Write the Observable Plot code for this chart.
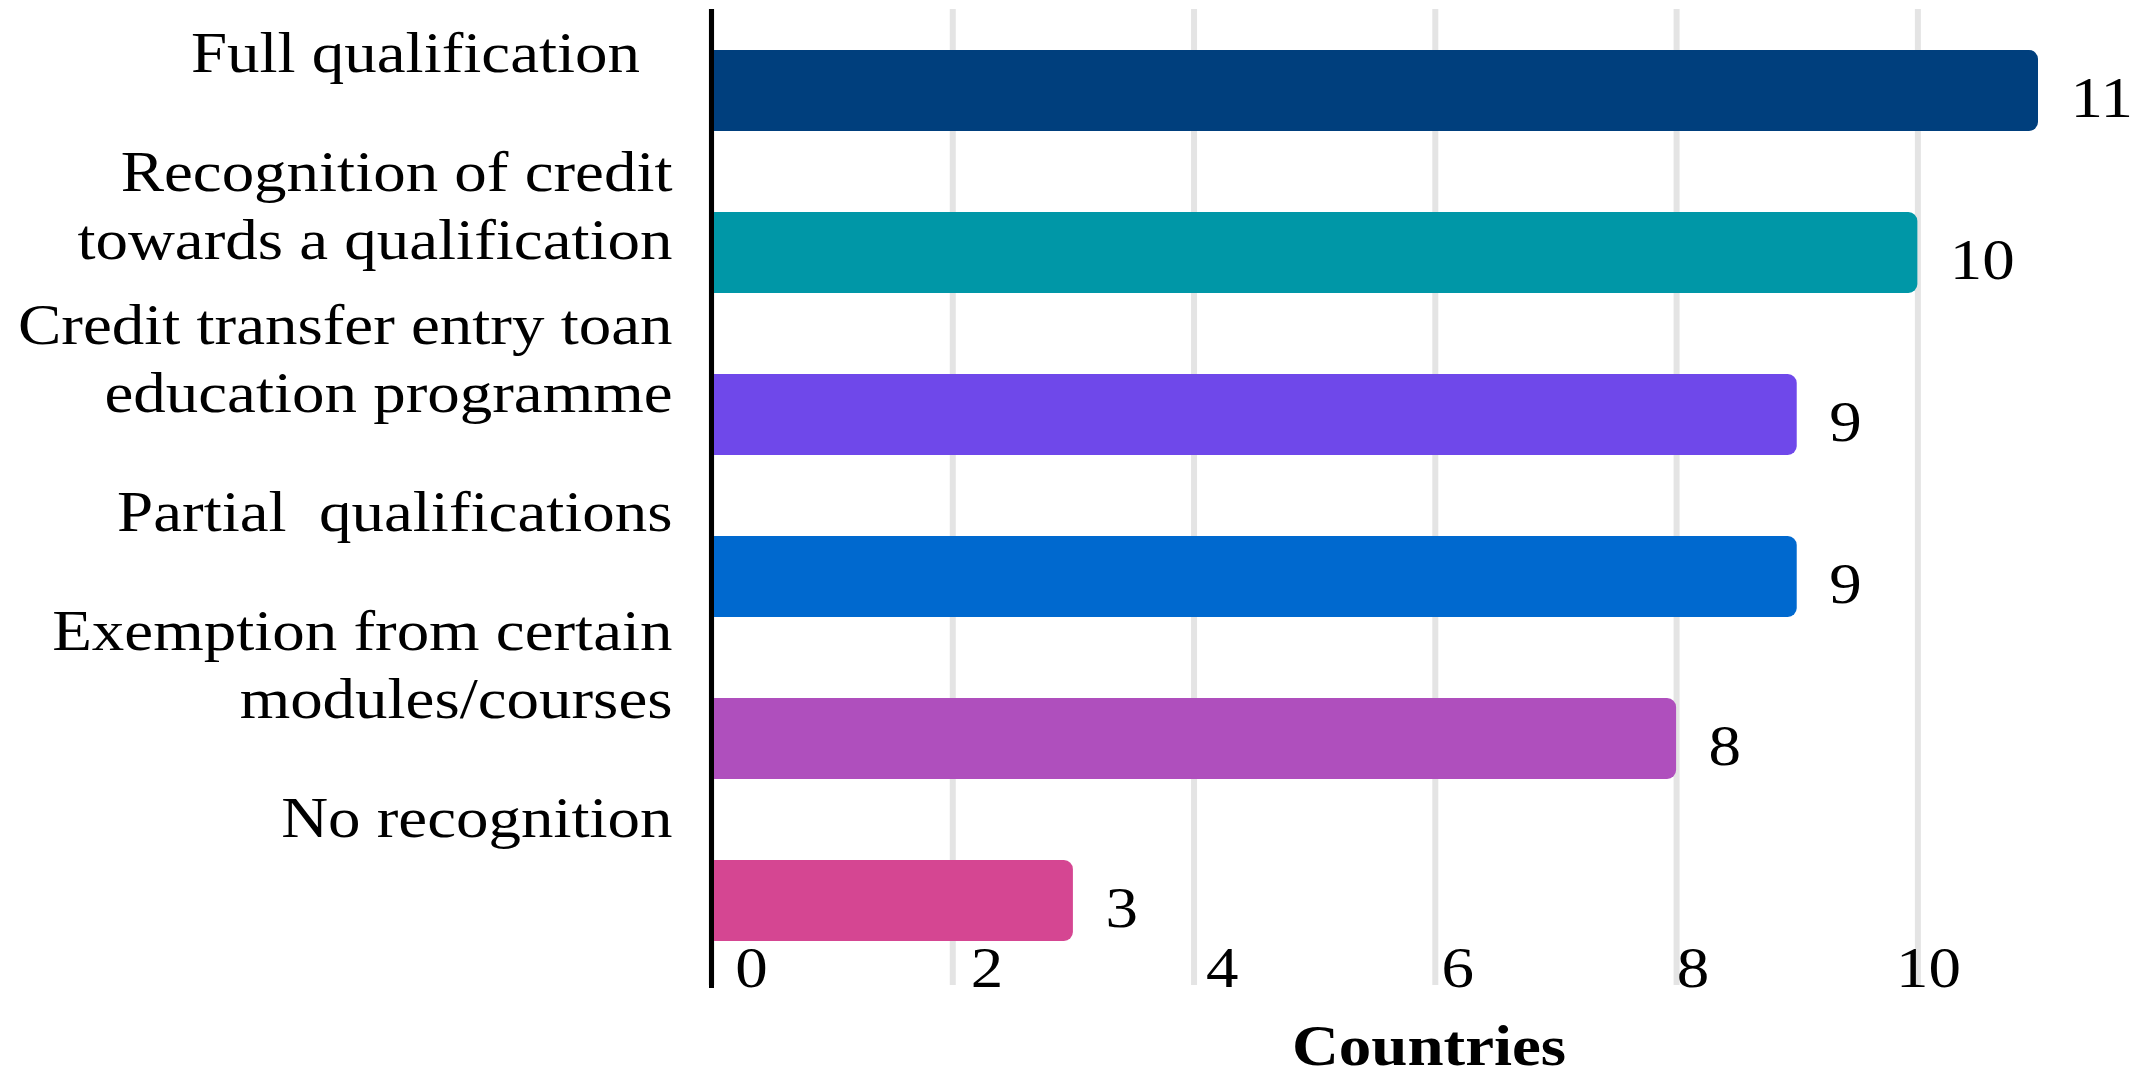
<!DOCTYPE html>
<html>
<head>
<meta charset="utf-8">
<script src="https://cdn.jsdelivr.net/npm/d3@7"></script>
<script src="https://cdn.jsdelivr.net/npm/@observablehq/plot@0.6"></script>
<style>
  html, body { margin: 0; padding: 0; background: white; }
  #wrap { position: relative; width: 2148px; height: 1080px; }
  #wrap svg { position: absolute; left: 0; top: 0; }
</style>
</head>
<body>
<div id="wrap"></div>
<script>
const categories = [
  "Full qualification",
  "Recognition of credit towards a qualification",
  "Credit transfer entry toan education programme",
  "Partial qualifications",
  "Exemption from certain modules/courses",
  "No recognition"
];
const labels = [
  "Full qualification  ",
  "Recognition of credit\ntowards a qualification",
  "Credit transfer entry toan\neducation programme",
  "Partial  qualifications",
  "Exemption from certain\nmodules/courses",
  "No recognition"
];
const values = [11, 10, 9, 9, 8, 3];
const colors = ["#003f7d", "#0097a7", "#6f48ea", "#0069cf", "#af4fbd", "#d54692"];
const xTicks = [0, 2, 4, 6, 8, 10];
const axisTitle = "Countries";

const data = categories.map((c, i) => ({category: c, label: labels[i], value: values[i]}));

const font = "'Liberation Serif', 'Times New Roman', serif";
const stretch = " scale(1.16,1)";

const main = Plot.plot({
  width: 2148, height: 1080,
  marginLeft: 711, marginRight: 110, marginTop: 9, marginBottom: 99,
  x: {domain: [0, 11], axis: null},
  y: {domain: categories, axis: null, paddingInner: 0.5, paddingOuter: 0.24, round: true},
  color: {domain: categories, range: colors},
  style: {fontFamily: font, fontSize: "56px", background: "white", color: "black"},
  marks: [
    Plot.ruleX(xTicks, {stroke: "#e4e4e4", strokeOpacity: 1, strokeWidth: 6, insetBottom: -4}),
    Plot.barX(data, {x: "value", y: "category", fill: "category", rx: 9}),
    Plot.barX(data, {x1: 0, x2: d => d.value / 2, y: "category", fill: "category", shapeRendering: "crispEdges"}),
    Plot.ruleX([0], {stroke: "black", strokeWidth: 5, insetBottom: -7}),
    Plot.text(data, {x: "value", y: "category", text: d => String(d.value), dx: 32, dy: 8, textAnchor: "start", lineAnchor: "middle", fill: "black"}),
    Plot.text([axisTitle], {frameAnchor: "bottom", lineAnchor: "middle", dy: 66, dx: 54, fontWeight: "bold", fill: "black"})
  ]
});

const overlay = Plot.plot({
  width: 2148, height: 1080,
  marginLeft: 672, marginRight: 0, marginTop: 0, marginBottom: 111,
  x: {type: "linear", domain: [0, 10], range: [751, 1928], axis: null},
  y: {type: "point", domain: categories, range: [50, 815], padding: 0, axis: null},
  style: {fontFamily: font, fontSize: "56px", background: "transparent", color: "black", whiteSpace: "pre"},
  marks: [
    Plot.text(data, {y: "category", text: "label", frameAnchor: "left", textAnchor: "end", lineAnchor: "middle", lineHeight: 1.2, fill: "black"}),
    Plot.text(xTicks, {x: d => d, text: d => String(d), frameAnchor: "bottom", lineAnchor: "middle", fill: "black"})
  ]
});

for (const svg of [main, overlay]) {
  svg.querySelectorAll("text").forEach(t => {
    const tr = t.getAttribute("transform");
    if (tr) t.setAttribute("transform", tr + stretch);
  });
}

const wrap = document.getElementById("wrap");
wrap.appendChild(main);
wrap.appendChild(overlay);
</script>
</body>
</html>
